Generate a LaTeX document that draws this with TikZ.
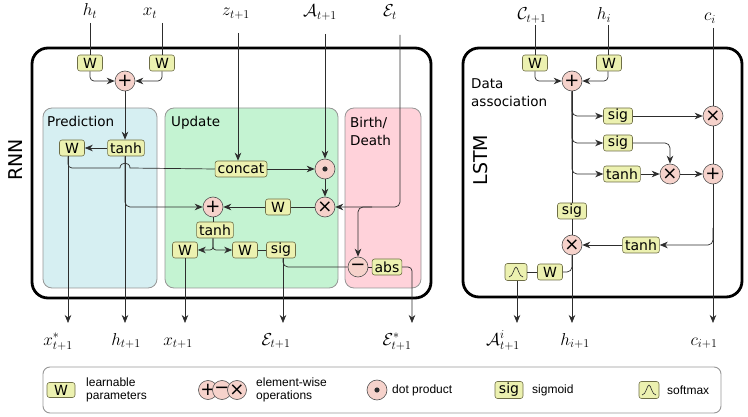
\documentclass[tikz,border=0pt]{standalone}
\usepackage{fontspec}
\usetikzlibrary{arrows.meta,calc}
\newfontfamily\djv{DejaVu Sans}
\newfontfamily\lbs{Liberation Sans}
\definecolor{boxfill}{RGB}{236,241,176}
\definecolor{boxdraw}{RGB}{110,110,70}
\definecolor{opfill}{RGB}{246,210,203}
\definecolor{opdraw}{RGB}{80,80,80}
\definecolor{predfill}{RGB}{214,239,242}
\definecolor{updfill}{RGB}{196,243,210}
\definecolor{bdfill}{RGB}{255,210,218}
\definecolor{regdraw}{RGB}{150,150,150}
\definecolor{lncol}{RGB}{45,45,45}
\tikzset{
  fbox/.style={draw=boxdraw, fill=boxfill, rounded corners=2.5pt, font=\djv\fontsize{14}{16}\selectfont, inner xsep=2.5pt, inner ysep=0pt, minimum height=16pt, minimum width=25pt, line width=0.6pt},
  op/.style={circle, draw=opdraw, fill=opfill, minimum size=20pt, inner sep=0pt, font=\djv\fontsize{18}{18}\selectfont, line width=0.6pt},
  region/.style={draw=regdraw, rounded corners=9pt, line width=0.8pt, inner sep=0pt},
  bigbox/.style={draw=black, line width=2.8pt, rounded corners=16pt, inner sep=0pt},
  lab/.style={font=\fontsize{17}{20}\selectfont, anchor=base, inner sep=1pt},
  conn/.style={draw=lncol, line width=0.7pt},
  arr/.style={conn, -{Stealth[length=8pt,width=6.5pt,inset=2.5pt]}},
  rtitle/.style={font=\djv\fontsize{13.5}{18.5}\selectfont, anchor=north west, inner sep=0pt, align=left},
  side/.style={font=\djv\fontsize{19}{22}\selectfont, rotate=90},
  leg/.style={font=\lbs\fontsize{12}{12.5}\selectfont, anchor=west, align=left, inner sep=0pt},
}
\begin{document}
\begin{tikzpicture}[x=1pt,y=-1pt]
\useasboundingbox (0,0) rectangle (748,417);
% containers
\node[bigbox, minimum width=399pt, minimum height=250pt] (rnn) at (231.5,173) {};
\node[bigbox, minimum width=279pt, minimum height=249pt] (lstm) at (602.5,172.5) {};
\node[side] (rnnlab) at (16,160) {RNN};
\node[side] (lstmlab) at (481,160) {LSTM};
\node[region, fill=predfill, minimum width=114pt, minimum height=180pt] (pred) at (100,198) {};
\node[region, fill=updfill, minimum width=173pt, minimum height=180pt] (upd) at (251.5,198) {};
\node[region, fill=bdfill, minimum width=76pt, minimum height=180pt] (bd) at (383,198) {};
\node[rtitle] (predlab) at (47,116) {Prediction};
\node[rtitle] (updlab) at (171,116) {Update};
\node[rtitle] (bdlab) at (350,117) {Birth/\\Death};
\node[rtitle] (dalab) at (471,78) {Data\\association};
% top labels
\node[lab] (lht) at (90,16) {$h_t$};
\node[lab] (lxt) at (150,16) {$x_t$};
\node[lab] (lz) at (236,16) {$z_{t+1}$};
\node[lab] (lA) at (320,17) {$\mathcal{A}_{t+1}$};
\node[lab] (lEt) at (390,17) {$\mathcal{E}_t$};
\node[lab] (lC) at (532,20) {$\mathcal{C}_{t+1}$};
\node[lab] (lhi0) at (604,20) {$h_i$};
\node[lab] (lci0) at (710,21) {$c_i$};
% bottom labels
\node[lab] (lxs) at (58,345) {$x^*_{t+1}$};
\node[lab] (lhn) at (126,345) {$h_{t+1}$};
\node[lab] (lxn) at (178,345) {$x_{t+1}$};
\node[lab] (lEn) at (276,345) {$\mathcal{E}_{t+1}$};
\node[lab] (lEs) at (397,345) {$\mathcal{E}^{*}_{t+1}$};
\node[lab] (lAi) at (503,345) {$\mathcal{A}^i_{t+1}$};
\node[lab] (lhi) at (575,345) {$h_{i+1}$};
\node[lab] (lci) at (704,345) {$c_{i+1}$};
% RNN nodes
\node[fbox] (W1) at (90,63) {W};
\node[fbox] (W2) at (162,63) {W};
\node[op] (p1) at (125,81) {+};
\node[fbox] (tP) at (126,148) {tanh};
\node[fbox] (WP) at (72,148) {W};
\node[fbox] (cc) at (241,169) {concat};
\node[op] (dot) at (325,169) {};
\fill[lncol] (dot) circle (2.6pt);
\node[op] (m1) at (325,207) {×};
\node[fbox] (WU) at (278,207) {W};
\node[op] (p2) at (213,207) {+};
\node[fbox] (tU) at (215,230) {tanh};
\node[fbox] (WL) at (185,250) {W};
\node[fbox] (WR) at (245,250) {W};
\node[fbox, minimum width=29pt] (sU) at (281,250) {sig};
\node[op] (mn) at (358,267) {−};
\node[fbox] (ab) at (387,267) {abs};
% RNN connectors
\coordinate (htT) at (90,23);
\coordinate (xtT) at (162,23);
\draw[conn] (htT) -- (W1);
\draw[conn] (xtT) -- (W2);
\draw[arr, rounded corners=4pt] (W1.south) |- (p1.west);
\draw[arr, rounded corners=4pt] (W2.south) |- (p1.east);
\draw[arr] (p1.south) -- (p1.south |- tP.north);
\draw[arr] (tP.west) -- (WP.east);
\coordinate (oxs) at (68,323);
\draw[arr] (oxs |- WP.south) -- (oxs);
\coordinate (hopL) at (120,168);
\coordinate (hopR) at (130,168);
\draw[conn, rounded corners=4pt] (oxs |- WP.south) |- (hopL);
\draw[conn] (hopL) .. controls (120,161.5) and (130,161.5) .. (hopR) -- (cc.west);
\coordinate (oh) at (125,323);
\draw[arr] (p1.south |- tP.south) -- (oh);
\draw[arr, rounded corners=5pt] (p1.south |- tP.south) |- (p2.west);
\coordinate (zT) at (238,33);
\draw[arr] (zT) -- (zT |- cc.north);
\draw[arr] (cc.east) -- (dot.west);
\coordinate (AT) at (325,34);
\draw[arr] (AT) -- (dot.north);
\draw[arr] (dot.south) -- (m1.north);
\draw[conn] (m1.west) -- (WU.east);
\draw[arr] (WU.west) -- (p2.east);
\coordinate (ET) at (400,35);
\draw[arr, rounded corners=5pt] (ET) |- (m1.east);
\coordinate (bj) at (372,207);
\draw[arr, rounded corners=5pt] (bj) -| (mn.north);
\draw[conn] (p2.south) -- (p2.south |- tU.north);
\draw[arr, rounded corners=3pt] (p2.south |- tU.south) |- (WL.east);
\draw[arr, rounded corners=3pt] (p2.south |- tU.south) |- (WR.west);
\draw[conn] (WR.east) -- (sU.west);
\coordinate (oxn) at (185,323);
\draw[arr] (WL.south) -- (oxn);
\coordinate (oE) at (283,323);
\draw[arr] (oE |- sU.south) -- (oE);
\draw[conn, rounded corners=5pt] (oE |- sU.south) |- (mn.west);
\draw[conn] (mn.east) -- (ab.west);
\coordinate (oEs) at (412,323);
\draw[arr, rounded corners=4pt] (ab.east) -| (oEs);
% LSTM nodes
\node[fbox] (LW1) at (535,63) {W};
\node[fbox] (LW2) at (609,63) {W};
\node[op] (lp) at (572,81) {+};
\node[fbox, minimum width=29pt] (ls1) at (618,116) {sig};
\node[fbox, minimum width=29pt] (ls2) at (618,143) {sig};
\node[fbox] (lt1) at (622,174) {tanh};
\node[op] (lm1) at (713,116) {×};
\node[op] (lm2) at (670,174) {×};
\node[op] (lpl) at (713,174) {+};
\node[fbox, minimum width=29pt] (ls3) at (572,211) {sig};
\node[op] (lm3) at (572,245) {×};
\node[fbox] (lt2) at (641,245) {tanh};
\node[fbox] (LW3) at (550,272) {W};
\node[fbox, minimum width=22pt, minimum height=17pt] (lsm) at (516,272) {};
\draw[lncol, line width=0.6pt] ([shift={(-7,5)}]lsm.center) .. controls ([shift={(-3,5)}]lsm.center) and ([shift={(-2,-5)}]lsm.center) .. ([shift={(0,-5)}]lsm.center) .. controls ([shift={(2,-5)}]lsm.center) and ([shift={(3,5)}]lsm.center) .. ([shift={(7,5)}]lsm.center);
% LSTM connectors
\coordinate (CT) at (535,25);
\draw[conn] (CT) -- (LW1);
\coordinate (hiT) at (608,25);
\draw[conn] (hiT) -- (hiT |- LW2.north);
\draw[arr, rounded corners=4pt] (LW1.south) |- (lp.west);
\draw[arr, rounded corners=4pt] (hiT |- LW2.south) |- (lp.east);
\draw[arr, rounded corners=5pt] (lp.south) |- (ls1.west);
\draw[arr, rounded corners=5pt] (lp.south) |- (ls2.west);
\draw[arr, rounded corners=5pt] (lp.south) |- (lt1.west);
\draw[conn] (lp.south) -- (ls3.north);
\draw[conn] (ls3.south) -- (lm3.north);
\coordinate (ohi) at (572,323);
\draw[arr] (lm3.south) -- (ohi);
\draw[arr] (ls1.east) -- (lm1.west);
\draw[arr, rounded corners=5pt] (ls2.east) -| (lm2.north);
\draw[arr] (lt1.east) -- (lm2.west);
\draw[arr] (lm2.east) -- (lpl.west);
\coordinate (ciT) at (713,28);
\draw[conn] (ciT) -- (lm1.north);
\draw[conn] (lm1.south) -- (lpl.north);
\coordinate (oci) at (713,323);
\draw[arr] (lpl.south) -- (oci);
\coordinate (cj) at (713,228);
\draw[arr, rounded corners=5pt] (cj) |- (lt2.east);
\draw[arr] (lt2.west) -- (lm3.east);
\draw[conn, rounded corners=5pt] (lm3.south) |- (LW3.east);
\draw[conn] (LW3.west) -- (lsm.east);
\coordinate (oA) at (517,323);
\draw[arr] (oA |- lsm.south) -- (oA);
% legend
\node[draw=regdraw, rounded corners=7pt, line width=0.9pt, minimum width=678pt, minimum height=46pt] (legend) at (382,390) {};
\node[fbox, minimum width=28pt, minimum height=15pt] (legW) at (61,390) {W};
\node[leg] (legWt) at (86,390) {learnable\\parameters};
\node[op, minimum size=19pt] (legp) at (208,390) {+};
\node[op, minimum size=19pt] (legm) at (222,390) {−};
\node[op, minimum size=19pt] (legx) at (237,390) {×};
\node[leg] (legopt) at (256,390) {element-wise\\operations};
\node[op] (legd) at (377,390) {};
\fill[lncol] (legd) circle (2.6pt);
\node[leg] (legdt) at (392,390) {dot product};
\node[fbox, minimum width=28pt, minimum height=17pt] (legs) at (509,390) {sig};
\node[leg] (legst) at (532,390) {sigmoid};
\node[fbox, minimum width=20pt, minimum height=17pt] (legsm) at (649,390) {};
\draw[lncol, line width=0.6pt] ([shift={(-7,5)}]legsm.center) .. controls ([shift={(-3,5)}]legsm.center) and ([shift={(-2,-5)}]legsm.center) .. ([shift={(0,-5)}]legsm.center) .. controls ([shift={(2,-5)}]legsm.center) and ([shift={(3,5)}]legsm.center) .. ([shift={(7,5)}]legsm.center);
\node[leg] (legsmt) at (667,390) {softmax};
\end{tikzpicture}
\end{document}
